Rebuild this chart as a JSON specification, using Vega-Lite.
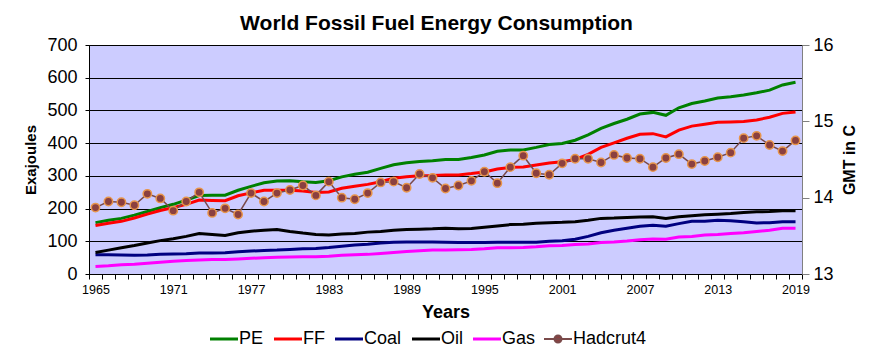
{
  "$schema": "https://vega.github.io/schema/vega-lite/v6.json",
  "width": 713,
  "height": 229,
  "autosize": {"type": "none"},
  "padding": {"left": 89, "top": 45, "right": 70, "bottom": 87},
  "background": "white",
  "title": {"text": "World Fossil Fuel Energy Consumption", "fontSize": 21, "font": "Liberation Sans", "fontWeight": "bold", "anchor": "middle", "dx": -9, "offset": 2, "color": "black"},
  "data": {"values": [
    {"year":1965,"PE":157,"FF":148,"Coal":59,"Oil":66,"Gas":23,"Hadcrut4":13.87},
    {"year":1966,"PE":164,"FF":155,"Coal":59,"Oil":73,"Gas":25,"Hadcrut4":13.95},
    {"year":1967,"PE":170,"FF":161,"Coal":58,"Oil":80,"Gas":28,"Hadcrut4":13.94},
    {"year":1968,"PE":180,"FF":171,"Coal":57,"Oil":87,"Gas":30,"Hadcrut4":13.90},
    {"year":1969,"PE":191,"FF":183,"Coal":58,"Oil":95,"Gas":33,"Hadcrut4":14.05},
    {"year":1970,"PE":203,"FF":194,"Coal":60,"Oil":102,"Gas":36,"Hadcrut4":13.99},
    {"year":1971,"PE":213,"FF":203,"Coal":61,"Oil":108,"Gas":39,"Hadcrut4":13.83},
    {"year":1972,"PE":226,"FF":213,"Coal":62,"Oil":115,"Gas":41,"Hadcrut4":13.95},
    {"year":1973,"PE":240,"FF":226,"Coal":64,"Oil":124,"Gas":43,"Hadcrut4":14.07},
    {"year":1974,"PE":241,"FF":225,"Coal":64,"Oil":121,"Gas":44,"Hadcrut4":13.80},
    {"year":1975,"PE":241,"FF":224,"Coal":65,"Oil":118,"Gas":44,"Hadcrut4":13.86},
    {"year":1976,"PE":256,"FF":239,"Coal":68,"Oil":126,"Gas":46,"Hadcrut4":13.78},
    {"year":1977,"PE":268,"FF":248,"Coal":70,"Oil":131,"Gas":48,"Hadcrut4":14.06},
    {"year":1978,"PE":279,"FF":256,"Coal":72,"Oil":134,"Gas":50,"Hadcrut4":13.95},
    {"year":1979,"PE":284,"FF":256,"Coal":73,"Oil":136,"Gas":51,"Hadcrut4":14.06},
    {"year":1980,"PE":285,"FF":256,"Coal":75,"Oil":130,"Gas":52,"Hadcrut4":14.10},
    {"year":1981,"PE":282,"FF":254,"Coal":77,"Oil":125,"Gas":53,"Hadcrut4":14.16},
    {"year":1982,"PE":280,"FF":249,"Coal":78,"Oil":121,"Gas":53,"Hadcrut4":14.03},
    {"year":1983,"PE":285,"FF":251,"Coal":81,"Oil":119,"Gas":54,"Hadcrut4":14.21},
    {"year":1984,"PE":297,"FF":262,"Coal":85,"Oil":122,"Gas":57,"Hadcrut4":14.00},
    {"year":1985,"PE":305,"FF":268,"Coal":89,"Oil":124,"Gas":59,"Hadcrut4":13.98},
    {"year":1986,"PE":311,"FF":274,"Coal":91,"Oil":128,"Gas":60,"Hadcrut4":14.06},
    {"year":1987,"PE":323,"FF":282,"Coal":95,"Oil":130,"Gas":63,"Hadcrut4":14.20},
    {"year":1988,"PE":334,"FF":293,"Coal":97,"Oil":134,"Gas":66,"Hadcrut4":14.21},
    {"year":1989,"PE":340,"FF":297,"Coal":98,"Oil":136,"Gas":69,"Hadcrut4":14.13},
    {"year":1990,"PE":344,"FF":300,"Coal":98,"Oil":137,"Gas":71,"Hadcrut4":14.31},
    {"year":1991,"PE":346,"FF":301,"Coal":98,"Oil":138,"Gas":73,"Hadcrut4":14.26},
    {"year":1992,"PE":350,"FF":303,"Coal":97,"Oil":140,"Gas":73,"Hadcrut4":14.12},
    {"year":1993,"PE":350,"FF":303,"Coal":96,"Oil":138,"Gas":74,"Hadcrut4":14.16},
    {"year":1994,"PE":356,"FF":307,"Coal":96,"Oil":139,"Gas":75,"Hadcrut4":14.22},
    {"year":1995,"PE":364,"FF":312,"Coal":96,"Oil":143,"Gas":77,"Hadcrut4":14.34},
    {"year":1996,"PE":375,"FF":321,"Coal":97,"Oil":147,"Gas":80,"Hadcrut4":14.19},
    {"year":1997,"PE":379,"FF":326,"Coal":97,"Oil":151,"Gas":80,"Hadcrut4":14.40},
    {"year":1998,"PE":379,"FF":327,"Coal":97,"Oil":152,"Gas":81,"Hadcrut4":14.55},
    {"year":1999,"PE":387,"FF":333,"Coal":97,"Oil":155,"Gas":83,"Hadcrut4":14.32},
    {"year":2000,"PE":396,"FF":339,"Coal":100,"Oil":157,"Gas":86,"Hadcrut4":14.30},
    {"year":2001,"PE":399,"FF":343,"Coal":102,"Oil":158,"Gas":87,"Hadcrut4":14.45},
    {"year":2002,"PE":409,"FF":350,"Coal":106,"Oil":160,"Gas":90,"Hadcrut4":14.51},
    {"year":2003,"PE":425,"FF":366,"Coal":115,"Oil":164,"Gas":92,"Hadcrut4":14.51},
    {"year":2004,"PE":445,"FF":387,"Coal":126,"Oil":170,"Gas":96,"Hadcrut4":14.46},
    {"year":2005,"PE":460,"FF":401,"Coal":134,"Oil":171,"Gas":98,"Hadcrut4":14.56},
    {"year":2006,"PE":473,"FF":415,"Coal":140,"Oil":173,"Gas":101,"Hadcrut4":14.52},
    {"year":2007,"PE":489,"FF":427,"Coal":146,"Oil":174,"Gas":105,"Hadcrut4":14.51},
    {"year":2008,"PE":494,"FF":429,"Coal":149,"Oil":175,"Gas":107,"Hadcrut4":14.40},
    {"year":2009,"PE":485,"FF":419,"Coal":146,"Oil":170,"Gas":106,"Hadcrut4":14.52},
    {"year":2010,"PE":508,"FF":440,"Coal":154,"Oil":175,"Gas":113,"Hadcrut4":14.57},
    {"year":2011,"PE":521,"FF":452,"Coal":161,"Oil":178,"Gas":115,"Hadcrut4":14.44},
    {"year":2012,"PE":529,"FF":458,"Coal":161,"Oil":181,"Gas":119,"Hadcrut4":14.48},
    {"year":2013,"PE":538,"FF":464,"Coal":164,"Oil":183,"Gas":121,"Hadcrut4":14.53},
    {"year":2014,"PE":542,"FF":465,"Coal":163,"Oil":185,"Gas":124,"Hadcrut4":14.59},
    {"year":2015,"PE":547,"FF":466,"Coal":160,"Oil":188,"Gas":126,"Hadcrut4":14.78},
    {"year":2016,"PE":554,"FF":471,"Coal":156,"Oil":190,"Gas":130,"Hadcrut4":14.81},
    {"year":2017,"PE":562,"FF":479,"Coal":157,"Oil":191,"Gas":134,"Hadcrut4":14.69},
    {"year":2018,"PE":578,"FF":491,"Coal":160,"Oil":193,"Gas":140,"Hadcrut4":14.61},
    {"year":2019,"PE":586,"FF":495,"Coal":160,"Oil":193,"Gas":140,"Hadcrut4":14.75}
  ]},
  "transform": [{"fold": ["PE", "FF", "Coal", "Oil", "Gas", "Hadcrut4"], "as": ["series", "value"]}],
  "encoding": {
    "x": {
      "field": "year", "type": "quantitative",
      "scale": {"domain": [1964.5, 2019.5], "nice": false, "zero": false},
      "axis": {
        "values": [1964.5,1965.5,1966.5,1967.5,1968.5,1969.5,1970.5,1971.5,1972.5,1973.5,1974.5,1975.5,1976.5,1977.5,1978.5,1979.5,1980.5,1981.5,1982.5,1983.5,1984.5,1985.5,1986.5,1987.5,1988.5,1989.5,1990.5,1991.5,1992.5,1993.5,1994.5,1995.5,1996.5,1997.5,1998.5,1999.5,2000.5,2001.5,2002.5,2003.5,2004.5,2005.5,2006.5,2007.5,2008.5,2009.5,2010.5,2011.5,2012.5,2013.5,2014.5,2015.5,2016.5,2017.5,2018.5,2019.5,1965,1971,1977,1983,1989,1995,2001,2007,2013,2019],
        "labelExpr": "datum.value % 1 === 0 ? format(datum.value, 'd') : ''",
        "tickOpacity": {"condition": {"test": "datum.value % 1 === 0", "value": 0}, "value": 1},
        "grid": false,
        "tickSize": 5,
        "tickColor": "black",
        "domainColor": "black",
        "labelFontSize": 12.5,
        "labelFont": "Liberation Sans",
        "labelColor": "black",
        "labelPadding": 4,
        "labelOverlap": false,
        "labelFlush": false,
        "title": "Years",
        "titleFont": "Liberation Sans",
        "titleFontSize": 18,
        "titleFontWeight": "bold",
        "titleColor": "black",
        "titlePadding": 8
      }
    }
  },
  "layer": [
    {
      "transform": [{"filter": "datum.series !== 'Hadcrut4'"}],
      "mark": {"type": "line", "strokeWidth": 3},
      "encoding": {
        "y": {
          "field": "value", "type": "quantitative",
          "scale": {"domain": [0, 700], "nice": false},
          "axis": {
            "values": [0, 100, 200, 300, 400, 500, 600, 700],
            "grid": true, "gridColor": "black", "gridWidth": 1, "gridOpacity": 1,
            "domainColor": "black", "tickColor": "black", "tickSize": 4,
            "labelFont": "Liberation Sans", "labelFontSize": 18, "labelColor": "black", "labelPadding": 8,
            "title": "Exajoules", "titleFont": "Liberation Sans", "titleFontSize": 15, "titleFontWeight": "bold", "titleColor": "black", "titlePadding": 8
          }
        },
        "color": {
          "field": "series", "type": "nominal",
          "scale": {"domain": ["PE", "FF", "Coal", "Oil", "Gas", "Hadcrut4"], "range": ["#008000", "#FF0000", "#000080", "#000000", "#FF00FF", "#7a4a4a"]},
          "legend": {
            "orient": "none", "legendX": 126, "legendY": 285, "direction": "horizontal", "title": null,
            "symbolType": "stroke", "symbolSize": 784, "symbolStrokeWidth": 3,
            "labelFont": "Liberation Sans", "labelFontSize": 18, "labelColor": "black", "labelOffset": 6,
            "columnPadding": 4, "padding": 0,
            "encode": {"symbols": {"update": {
              "shape": {"signal": "datum.value === 'Hadcrut4' ? 'M-1,0H1M0.25,0A0.25,0.25,0,1,1,-0.25,0A0.25,0.25,0,1,1,0.25,0Z' : 'stroke'"},
              "fill": {"signal": "datum.value === 'Hadcrut4' ? '#8B4040' : 'transparent'"},
              "strokeWidth": {"signal": "datum.value === 'Hadcrut4' ? 2 : 3"}
            }}}
          }
        }
      }
    },
    {
      "transform": [{"filter": "datum.series === 'Hadcrut4'"}],
      "encoding": {
        "y": {
          "field": "value", "type": "quantitative",
          "scale": {"domain": [13, 16], "nice": false, "zero": false},
          "axis": {
            "orient": "right",
            "values": [13, 14, 15, 16],
            "grid": false,
            "domainColor": "#808080", "tickColor": "#808080", "tickSize": 7,
            "labelFont": "Liberation Sans", "labelFontSize": 18, "labelColor": "black", "labelPadding": 4,
            "title": "GMT in C", "titleAngle": 270, "titleBaseline": "top", "titleFont": "Liberation Sans", "titleFontSize": 16, "titleFontWeight": "bold", "titleColor": "black", "titlePadding": 8
          }
        }
      },
      "layer": [
        {"mark": {"type": "line", "strokeWidth": 1.5}, "encoding": {"color": {"field": "series", "type": "nominal"}}},
        {"mark": {"type": "point", "filled": true, "size": 70, "fill": "#8B4040", "stroke": "#E8954A", "strokeWidth": 1.5, "opacity": 1}}
      ]
    }
  ],
  "resolve": {"scale": {"y": "independent"}},
  "config": {
    "view": {"fill": "#CCCCFF", "stroke": "black", "strokeWidth": 1},
    "font": "Liberation Sans"
  }
}
